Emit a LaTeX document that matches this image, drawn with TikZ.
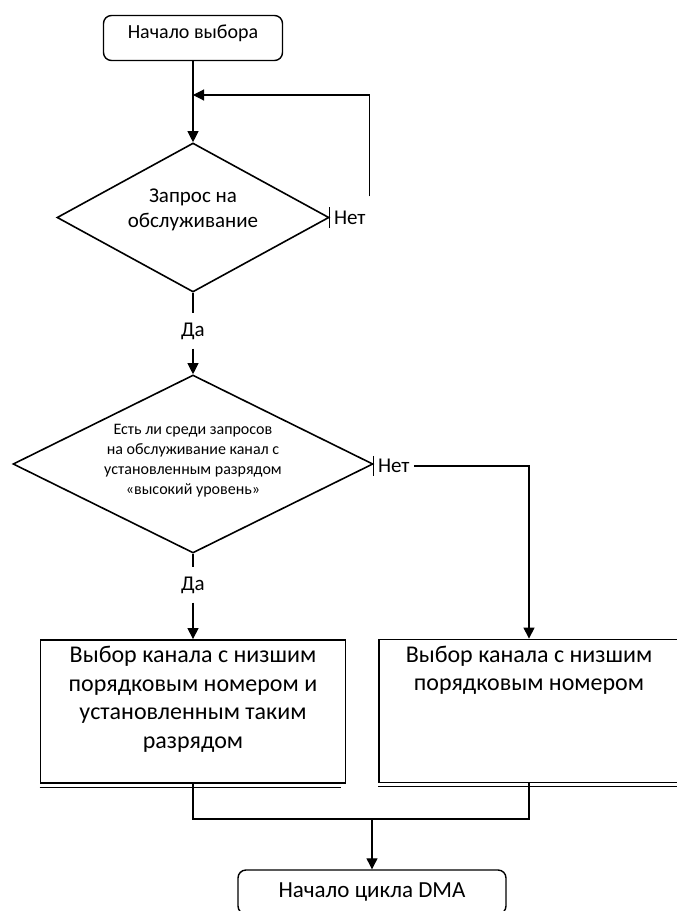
\documentclass[tikz,border=0pt]{standalone}
\usepackage{fontspec}
\setmainfont{Carlito}
\usetikzlibrary{positioning,arrows.meta,shapes.geometric}

\tikzset{
  term/.style={draw, rounded corners=8pt, line width=1.4pt},
  decide/.style={draw, diamond, line width=1.6pt, inner sep=0pt, align=center},
  procbox/.style={draw, line width=1.8pt, minimum height=143pt},
  proctext/.style={anchor=north, align=center, inner sep=7pt, font=\fontsize{24}{28.5}\selectfont},
  ans/.style={font=\fontsize{21}{25}\selectfont},
  link/.style={line width=1.1pt},
  arr/.style={link, -{Triangle[width=11pt,length=11pt]}},
}

\begin{document}
\begin{tikzpicture}[x=1pt, y=-1pt]
  \useasboundingbox (0,0) rectangle (677,911);
  \node[term, minimum width=179pt, minimum height=45pt, text depth=13pt, font=\fontsize{20}{24}\selectfont] (start) at (193,38) {Начало выбора};
  \node[decide, minimum width=272pt, minimum height=149pt, aspect=1.8, text depth=18pt, font=\fontsize{21}{25}\selectfont] (ask) at (193,217.5) {Запрос на\\обслуживание};
  \node[ans, anchor=west, minimum height=20pt, inner xsep=4pt, inner ysep=0pt] (no1) at (ask.east) {Нет};
  \node[ans, inner xsep=2pt, inner ysep=9pt] (yes1) at (193,331) {Да};
  \node[decide, minimum width=360pt, minimum height=178pt, aspect=2, text depth=9pt, font=\fontsize{16}{20}\selectfont] (pick) at (193,464) {Есть ли среди запросов\\на обслуживание канал с\\установленным разрядом\\«высокий уровень»};
  \node[ans, anchor=west, minimum height=20pt, inner xsep=4pt, inner ysep=0pt, yshift=-2pt] (no2) at (pick.east) {Нет};
  \node[ans, inner xsep=2pt, inner ysep=9pt] (yes2) at (193,585) {Да};
  \node[procbox, minimum width=305pt] (lbox) at (193,711.5) {};
  \node[proctext] (ltext) at (lbox.north) {Выбор канала с низшим\\порядковым номером и\\установленным таким\\разрядом};
  \node[procbox, minimum width=300pt] (rbox) at (529,711) {};
  \node[proctext] (rtext) at (rbox.north) {Выбор канала с низшим\\порядковым номером};
  \node[term, minimum width=268pt, minimum height=44pt, font=\fontsize{23}{27}\selectfont] (dma) at (372,892) {Начало цикла DMA};
  \coordinate (back) at (193,95);
  \coordinate (join) at (372,819);

  \draw[arr] (start) -- (ask);
  \draw[link] (no1.north west) -- (no1.south west);
  \draw[arr] (no1.north east) ++(0,-11) |- (back);
  \draw[link] (ask) -- (yes1);
  \draw[arr] (yes1) -- (pick);
  \draw[link] (no2.north west) -- (no2.south west);
  \draw[arr] (no2) -| (rbox);
  \draw[link] (pick) -- (yes2);
  \draw[arr] (yes2) -- (yes2 |- lbox.north);
  \draw ([yshift=-3pt]lbox.south west) -- ([xshift=-5pt,yshift=-3pt]lbox.south east);
  \draw ([yshift=-3pt]rbox.south west) -- ([yshift=-3pt]rbox.south east);
  \draw[link] (lbox) -- (lbox |- join) -- (rbox |- join) -- (rbox);
  \draw[arr] (join) -- (dma);
\end{tikzpicture}
\end{document}
